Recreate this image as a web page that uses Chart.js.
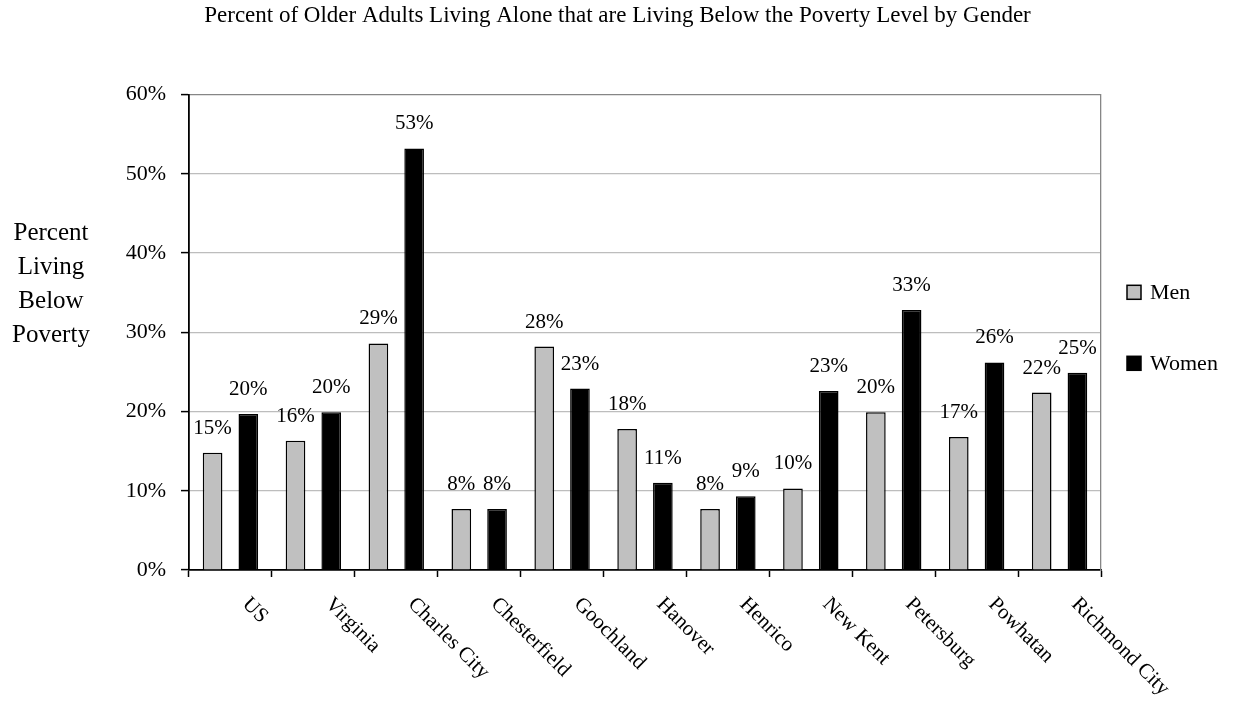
<!DOCTYPE html>
<html>
<head>
<meta charset="utf-8">
<title>Older Adults Living Alone Below Poverty</title>
<script src="https://cdn.jsdelivr.net/npm/chart.js@4/dist/chart.umd.min.js"></script>
<style>
  html, body { margin: 0; padding: 0; background: #fff; }
  #wrap { width: 1235px; height: 702px; }
</style>
</head>
<body>
<div id="wrap"><canvas id="povertyChart" width="1235" height="702"></canvas></div>
<script>
const regions = ['US', 'Virginia', 'Charles City', 'Chesterfield', 'Goochland', 'Hanover',
  'Henrico', 'New Kent', 'Petersburg', 'Powhatan', 'Richmond City'];
const menPct = [14.8, 16.3, 28.6, 7.7, 28.2, 17.8, 7.7, 10.3, 19.9, 16.8, 22.4];
const womenPct = [19.7, 19.9, 53.2, 7.7, 22.9, 11.0, 9.3, 22.6, 32.8, 26.2, 24.9];
const yTicks = [0, 10, 20, 30, 40, 50, 60];
const yTitleLines = ['Percent', 'Living', 'Below', 'Poverty'];

const SERIF = '"Liberation Serif", "Times New Roman", Times, serif';
const MEN_FILL = '#c0c0c0';
const WOMEN_FILL = '#000000';

// value labels above each bar, e.g. "15%"
const barValueLabels = {
  id: 'barValueLabels',
  afterDatasetsDraw(chart) {
    const ctx = chart.ctx;
    ctx.save();
    ctx.font = '21px ' + SERIF;
    ctx.fillStyle = '#000';
    ctx.textAlign = 'center';
    ctx.textBaseline = 'alphabetic';
    chart.data.datasets.forEach((ds, di) => {
      chart.getDatasetMeta(di).data.forEach((bar, i) => {
        ctx.fillText(Math.round(ds.data[i]) + '%', bar.x, bar.y - 19);
      });
    });
    ctx.restore();
  }
};

// category names slanted downward to the right under the x axis
const slantedCategoryLabels = {
  id: 'slantedCategoryLabels',
  afterDraw(chart) {
    const ctx = chart.ctx;
    const xs = chart.scales.x;
    ctx.save();
    ctx.font = '21px ' + SERIF;
    ctx.fillStyle = '#000';
    ctx.textAlign = 'left';
    ctx.textBaseline = 'middle';
    regions.forEach((name, i) => {
      ctx.save();
      ctx.translate(xs.getPixelForValue(i) + 15, xs.top + 31);
      ctx.rotate(Math.PI / 4);
      ctx.fillText(name, 0, 0);
      ctx.restore();
    });
    ctx.restore();
  }
};

// horizontal, stacked y axis title on the left
const sideTitle = {
  id: 'sideTitle',
  afterDraw(chart) {
    const ctx = chart.ctx;
    const area = chart.chartArea;
    ctx.save();
    ctx.font = '25px ' + SERIF;
    ctx.fillStyle = '#000';
    ctx.textAlign = 'center';
    ctx.textBaseline = 'alphabetic';
    yTitleLines.forEach((line, i) => {
      ctx.fillText(line, 51, area.top + 145 + i * 34);
    });
    ctx.restore();
  }
};

// legend on the right side with small square swatches
const sideLegend = {
  id: 'sideLegend',
  afterDraw(chart) {
    const ctx = chart.ctx;
    const area = chart.chartArea;
    const mid = (area.top + area.bottom) / 2;
    const x = area.right + 26;
    const offsets = [-40, 31];
    ctx.save();
    ctx.font = '22px ' + SERIF;
    ctx.textAlign = 'left';
    ctx.textBaseline = 'middle';
    chart.data.datasets.forEach((ds, i) => {
      const cy = mid + offsets[i];
      ctx.fillStyle = ds.backgroundColor;
      ctx.fillRect(x, cy - 7, 14, 14);
      ctx.lineWidth = 1.5;
      ctx.strokeStyle = '#000';
      ctx.strokeRect(x, cy - 7, 14, 14);
      ctx.fillStyle = '#000';
      ctx.fillText(ds.label, x + 23, cy + 1);
    });
    ctx.restore();
  }
};

new Chart(document.getElementById('povertyChart'), {
  type: 'bar',
  data: {
    labels: regions,
    datasets: [
      {
        label: 'Men',
        data: menPct,
        backgroundColor: MEN_FILL,
        borderColor: '#000',
        borderWidth: 1.5,
        categoryPercentage: 0.862,
        barPercentage: 0.55
      },
      {
        label: 'Women',
        data: womenPct,
        backgroundColor: WOMEN_FILL,
        borderColor: '#000',
        borderWidth: 1.5,
        categoryPercentage: 0.862,
        barPercentage: 0.55
      }
    ]
  },
  options: {
    responsive: false,
    animation: false,
    events: [],
    layout: { padding: 0 },
    plugins: {
      legend: { display: false },
      tooltip: { enabled: false },
      title: {
        display: true,
        text: 'Percent of Older Adults Living Alone that are Living Below the Poverty Level by Gender',
        color: '#000',
        font: { family: SERIF, size: 23, weight: 'normal' },
        padding: { top: 2, bottom: 65 }
      }
    },
    scales: {
      x: {
        ticks: { display: false },
        grid: {
          display: true,
          offset: true,
          drawOnChartArea: false,
          drawTicks: true,
          tickLength: 7,
          tickColor: '#000',
          tickWidth: 1.5
        },
        border: { color: '#000', width: 1.8 },
        afterFit(scale) { scale.height = 132; }
      },
      y: {
        min: 0,
        max: 60,
        afterBuildTicks(scale) { scale.ticks = yTicks.map(v => ({ value: v })); },
        ticks: {
          color: '#000',
          padding: 15,
          font: { family: SERIF, size: 22 },
          callback: v => v + '%'
        },
        grid: {
          color: ctx => (ctx.tick && ctx.tick.value === 60) ? '#868686' : '#bdbdbd',
          lineWidth: 1.2,
          tickColor: '#000',
          tickLength: 8,
          tickWidth: 1.5
        },
        border: { color: '#000', width: 1.8 },
        afterFit(scale) { scale.width = 189; }
      },
      yRight: {
        position: 'right',
        min: 0,
        max: 60,
        ticks: { display: false },
        grid: { display: true, drawOnChartArea: false, drawTicks: false },
        border: { color: '#868686', width: 1.3 },
        afterFit(scale) { scale.width = 134; }
      }
    }
  },
  plugins: [barValueLabels, slantedCategoryLabels, sideTitle, sideLegend]
});
</script>
</body>
</html>
